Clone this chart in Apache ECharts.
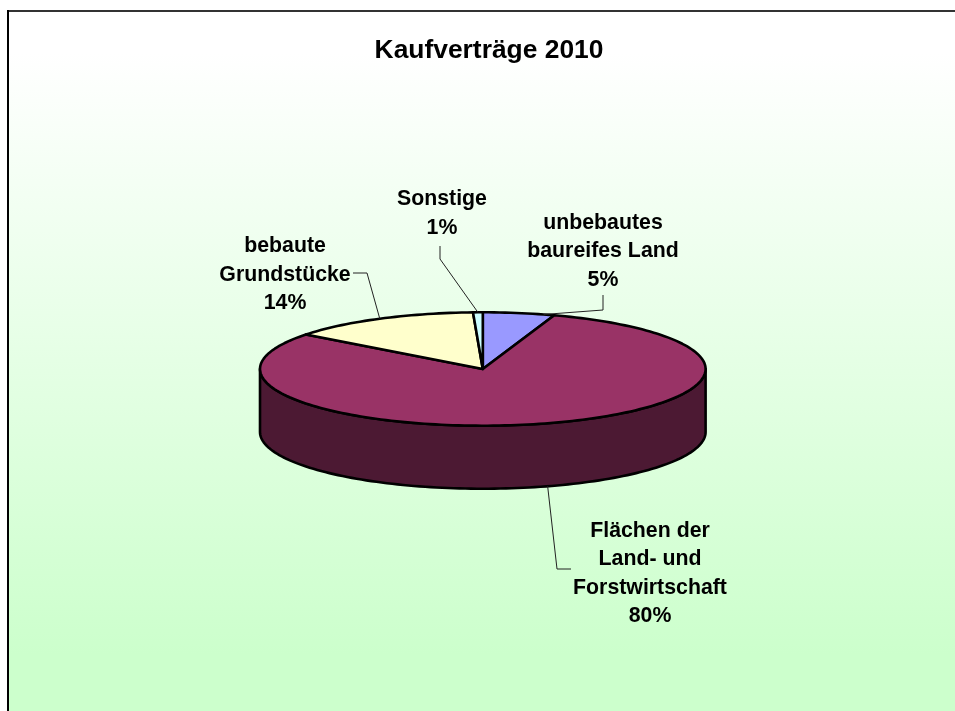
<!DOCTYPE html>
<html><head><meta charset="utf-8">
<style>html,body{margin:0;padding:0;background:#fff}#c{width:955px;height:711px}</style>
<script src="https://cdn.jsdelivr.net/npm/echarts@6/dist/echarts.min.js"></script>
</head><body><div id="c"></div>
<script>
const chartTitle = 'Kaufverträge 2010';
const categories = ['unbebautes\nbaureifes Land', 'Flächen der\nLand- und\nForstwirtschaft', 'bebaute\nGrundstücke', 'Sonstige'];
const shares = [5.2, 80.2, 13.9, 0.7];
const colors = ['#9999FF', '#993366', '#FFFFCC', '#CCFFFF'];
const sideColors = ['#4C4C80', '#4C1933', '#808066', '#668080'];

// layout only
const pie = {cx: 482.8, cy: 369, rx: 222.8, ry: 56.7, depth: 63};
const labelCenters = [[603, 251.5], [650, 573.5], [285, 275], [442, 213.5]];
const leaderAngleShift = [6.5, 0, 0, 0];
const leaderBends = [
  [[603, 310], [603, 295]],
  [[557, 569], [571, 569]],
  [[367, 273], [353, 273]],
  [[440, 259], [440, 246]]
];

const total = shares.reduce((a, b) => a + b, 0);
const starts = [];
shares.reduce((acc, v, i) => { starts[i] = acc; return acc + v / total * 360; }, 0);
const P = (deg, dy) => {
  const t = deg * Math.PI / 180;
  return [pie.cx + pie.rx * Math.sin(t), pie.cy - pie.ry * Math.cos(t) + (dy || 0)];
};
const arc = (a, b, dy) => {
  const n = Math.max(2, Math.ceil((b - a) / 1.5)), out = [];
  for (let i = 0; i <= n; i++) out.push(P(a + (b - a) * i / n, dy));
  return out;
};

const renderItem = (params, api) => {
  const i = api.value(0), start = starts[i], end = start + api.value(1) / total * 360;
  const children = [];
  const a = Math.max(start, 90), b = Math.min(end, 270);
  if (b > a) {
    const top = arc(a, b, 0), bot = arc(a, b, pie.depth).reverse();
    children.push({type: 'polygon', shape: {points: top.concat(bot)},
      style: {fill: sideColors[i], stroke: '#000', lineWidth: 2.6, lineJoin: 'round'}});
  }
  children.push({type: 'polygon', shape: {points: [[pie.cx, pie.cy]].concat(arc(start, end, 0))},
    style: {fill: colors[i], stroke: '#000', lineWidth: 2.6, lineJoin: 'round'}});
  const mid = (start + end) / 2 + leaderAngleShift[i];
  const front = mid > 90 && mid < 270;
  children.push({type: 'polyline',
    shape: {points: [P(mid, front ? pie.depth : 0)].concat(leaderBends[i])},
    style: {fill: null, stroke: '#222', lineWidth: 1}});
  children.push({type: 'text', style: {
    text: categories[i] + '\n' + Math.round(shares[i]) + '%',
    x: labelCenters[i][0], y: labelCenters[i][1], align: 'center', verticalAlign: 'middle',
    font: 'bold 21.3px "Liberation Sans"', lineHeight: 28.5, fill: '#000'}});
  return {type: 'group', children};
};

const chart = echarts.init(document.getElementById('c'), null, {renderer: 'canvas'});
chart.setOption({
  animation: false,
  backgroundColor: '#fff',
  title: {text: chartTitle, left: 484, top: 33, textAlign: 'center',
    textStyle: {fontFamily: 'Liberation Sans', fontWeight: 'bold', fontSize: 26.4, color: '#000'}},
  graphic: [{type: 'rect', z: -10, shape: {x: 8, y: 11, width: 947, height: 700},
    style: {fill: new echarts.graphic.LinearGradient(0, 0, 0, 1, [
      {offset: 0, color: '#FFFFFF'}, {offset: 0.06, color: '#FFFFFF'}, {offset: 0.92, color: '#CCFFCC'}, {offset: 1, color: '#CCFFCC'}])}},
    {type: 'line', z: -9, shape: {x1: 7, y1: 11, x2: 955, y2: 11}, style: {stroke: '#333', lineWidth: 2}},
    {type: 'line', z: -9, shape: {x1: 8, y1: 10, x2: 8, y2: 711}, style: {stroke: '#000', lineWidth: 2}}],
  series: [{type: 'custom', coordinateSystem: 'none', renderItem, silent: true,
    data: shares.map((v, i) => [i, v]), encode: {}}]
});
</script></body></html>
